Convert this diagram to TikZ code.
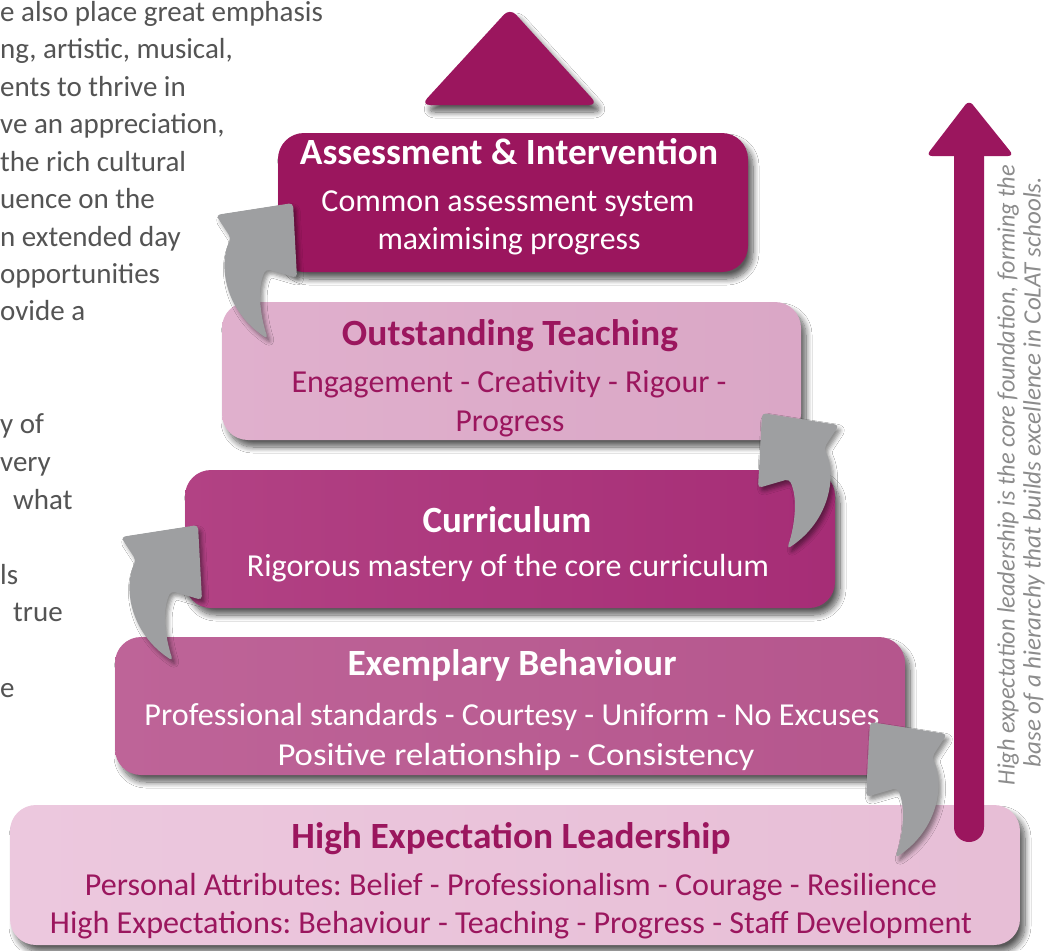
\documentclass[tikz,border=0pt]{standalone}
\usepackage{fontspec}
\setmainfont{Carlito}
\usetikzlibrary{shadows.blur}
\definecolor{dmag}{RGB}{155,22,94}
\definecolor{pinkA}{RGB}{218,167,198}
\definecolor{pinkAl}{RGB}{224,176,205}
\definecolor{magB}{RGB}{166,45,118}
\definecolor{magBl}{RGB}{178,66,132}
\definecolor{magC}{RGB}{181,86,141}
\definecolor{magCl}{RGB}{190,100,152}
\definecolor{pinkD}{RGB}{231,190,214}
\definecolor{pinkDl}{RGB}{236,200,222}
\definecolor{agray}{RGB}{158,159,161}
\definecolor{tgray}{RGB}{84,84,84}
\definecolor{vgray}{RGB}{140,140,140}
\newcommand\fw[2]{\resizebox{#1pt}{\height}{#2}}
\frenchspacing
\begin{document}
\begin{tikzpicture}[x=1pt,y=-1pt,
  tier/.style={rounded corners=26pt, inner sep=0pt,
    blur shadow={shadow xshift=5pt,shadow yshift=-7pt,shadow blur radius=6pt,shadow blur steps=10,shadow opacity=65}},
  ttl/.style={anchor=base, inner sep=0pt, font=\fontsize{37}{40}\selectfont\bfseries},
  txt/.style={anchor=base, inner sep=0pt, font=\fontsize{32}{36}\selectfont},
  lft/.style={anchor=base west, inner sep=0pt, text=tgray, font=\fontsize{29}{36}\selectfont},
  vt/.style={rotate=90, inner sep=0pt, text=vgray, font=\fontsize{25}{28}\selectfont\itshape},
  garrow/.pic={
    \fill[agray, rounded corners=4pt,
      blur shadow={shadow xshift=3pt,shadow yshift=-4pt,shadow blur radius=4pt,shadow opacity=45}]
      (0,0) -- (-77,12) -- (-62,35) .. controls (-75,62) and (-68,108) .. (-25,136)
      .. controls (-33,112) and (-36,85) .. (-27,66) -- (4,75) -- cycle;
  }
]
\useasboundingbox (0,0) rectangle (1046,950);
\fill[white] (0,0) rectangle (1046,950);

% left paragraph fragments
\node[lft] (l1) at (0,22) {e also place great emphasis};
\node[lft] (l2) at (0,59) {ng, artistic, musical,};
\node[lft] (l3) at (0,96) {ents to thrive in};
\node[lft] (l4) at (0,133) {ve an appreciation,};
\node[lft] (l5) at (0,171) {the rich cultural};
\node[lft] (l6) at (0,208) {uence on the};
\node[lft] (l7) at (0,246) {n extended day};
\node[lft] (l8) at (0,283) {opportunities};
\node[lft] (l9) at (0,320) {ovide a};
\node[lft] (l10) at (0,433) {y of};
\node[lft] (l11) at (0,471) {very};
\node[lft] (l12) at (13,509) {what};
\node[lft] (l13) at (0,584) {ls};
\node[lft] (l14) at (13,621) {true};
\node[lft] (l15) at (0,697) {e};

% top triangle
\fill[dmag, rounded corners=9pt,
  blur shadow={shadow xshift=5pt,shadow yshift=-7pt,shadow blur radius=6pt,shadow blur steps=10,shadow opacity=65}]
  (510,8) -- (598,105) -- (421,105) -- cycle;

% tiers
\node[tier, fill=dmag, minimum width=470pt, minimum height=139pt] (b1) at (513,202.5) {};
\node[tier, left color=pinkAl, right color=pinkA, minimum width=579pt, minimum height=138pt] (b2) at (511.5,371) {};
\node[tier, left color=magBl, right color=magB, minimum width=650pt, minimum height=138pt] (b3) at (510,539) {};
\node[tier, left color=magCl, right color=magC, minimum width=790pt, minimum height=138pt] (b4) at (510,706) {};
\node[tier, left color=pinkDl, right color=pinkD, minimum width=1010pt, minimum height=140pt] (b5) at (515,875) {};

% texts
\node[ttl, text=white] (t1) at (509,164) {\fw{418}{Assessment \& Intervention}};
\node[txt, text=white] (t1a) at (508,211) {\fw{373}{Common assessment system}};
\node[txt, text=white] (t1b) at (509,249) {\fw{263}{maximising progress}};

\node[ttl, text=dmag] (t2) at (510,345) {\fw{336}{Outstanding Teaching}};
\node[txt, text=dmag] (t2a) at (509,392) {\fw{435}{Engagement - Creativity - Rigour -}};
\node[txt, text=dmag] (t2b) at (510,431) {\fw{109}{Progress}};

\node[ttl, text=white] (t3) at (507,532) {\fw{169}{Curriculum}};
\node[txt, text=white] (t3a) at (508,576) {\fw{522}{Rigorous mastery of the core curriculum}};

\node[ttl, text=white] (t4) at (512,675) {\fw{329}{Exemplary Behaviour}};
\node[txt, text=white] (t4a) at (512,725) {\fw{735}{Professional standards - Courtesy - Uniform - No Excuses}};
\node[txt, text=white] (t4b) at (516,765) {\fw{477}{Positive relationship - Consistency}};

\node[ttl, text=dmag] (t5) at (511,848) {\fw{439}{High Expectation Leadership}};
\node[txt, text=dmag] (t5a) at (511,895) {\fw{852}{Personal Attributes: Belief - Professionalism - Courage - Resilience}};
\node[txt, text=dmag] (t5b) at (511,933) {\fw{922}{High Expectations: Behaviour - Teaching - Progress - Staff Development}};

% vertical arrow
\begin{scope}[blur shadow={shadow xshift=4pt,shadow yshift=-5pt,shadow blur radius=5pt,shadow opacity=50}]
\fill[dmag, rounded corners=15pt] (954,140) rectangle (984,842);
\fill[dmag, rounded corners=6pt] (969,100) -- (1014,156) -- (926,156) -- cycle;
\end{scope}

% vertical text
\node[vt] (v1) at (1008,475) {\fw{620}{High expectation leadership is the core foundation, forming the}};
\node[vt] (v2) at (1034,472) {\fw{590}{base of a hierarchy that builds excellence in CoLAT schools.}};

% gray arrows
\pic at (293,203) {garrow};
\pic at (198,525) {garrow};
\pic[xscale=-1] at (762,413) {garrow};
\pic[xscale=-1] at (870,722) {garrow};
\end{tikzpicture}
\end{document}
